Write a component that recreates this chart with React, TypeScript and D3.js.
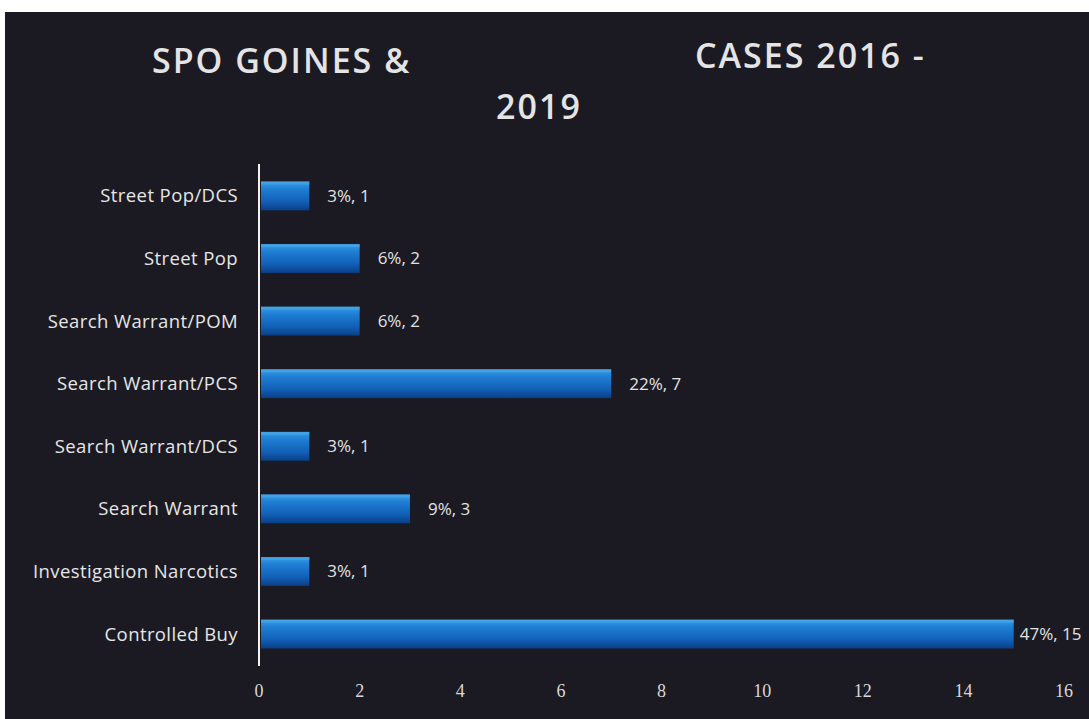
import React from "react";
import * as d3 from "d3";

const categories = [
  "Street Pop/DCS",
  "Street Pop",
  "Search Warrant/POM",
  "Search Warrant/PCS",
  "Search Warrant/DCS",
  "Search Warrant",
  "Investigation Narcotics",
  "Controlled Buy",
];
const counts = [1, 2, 2, 7, 1, 3, 1, 15];
const percents = ["3%", "6%", "6%", "22%", "3%", "9%", "3%", "47%"];
const xTicks = [0, 2, 4, 6, 8, 10, 12, 14, 16];

const W = 1089;
const H = 719;

export default function App() {
  const x = d3.scaleLinear().domain([0, 16]).range([259, 1064]);
  const y = d3.scaleBand<string>().domain(categories).range([164, 666]).paddingInner(0.54).paddingOuter(0.28);
  const font = "'Open Sans', 'DejaVu Sans', sans-serif";
  const bw = y.bandwidth();
  return (
    <svg width={W} height={H} style={{ position: "absolute", left: 0, top: 0 }}>
      <defs>
        <linearGradient id="barGrad" x1="0" y1="0" x2="0" y2="1">
          <stop offset="0" stopColor="#3b9de4" />
          <stop offset="0.25" stopColor="#1f7fd4" />
          <stop offset="0.7" stopColor="#125fb6" />
          <stop offset="1" stopColor="#0a3f86" />
        </linearGradient>
      </defs>
      <rect x={0} y={0} width={W} height={H} fill="#ffffff" />
      <rect x={5} y={12} width={W - 5} height={H - 12} fill="#1b1a22" />
      <g fill="#e4e4e6" fontFamily={font} fontWeight={600} fontSize={34} letterSpacing={2}>
        <text x={152} y={73}>SPO GOINES &amp;</text>
        <text x={695} y={68}>CASES 2016 -</text>
        <text x={539} y={119} textAnchor="middle">2019</text>
      </g>
      {categories.map((c, i) => {
        const y0 = y(c) as number;
        const x1 = x(counts[i]);
        return (
          <g key={c}>
            <rect x={x(0) + 2} y={y0} width={x1 - x(0) - 2} height={bw} fill="url(#barGrad)" />
            <rect x={x(0) + 2} y={y0} width={x1 - x(0) - 2} height={3} fill="#4aa8ea" opacity={0.6} />
            <text
              x={x1 + (counts[i] >= 15 ? 6 : 18)}
              y={y0 + bw / 2}
              dy="0.35em"
              fill="#e2e2e2"
              fontFamily={font}
              fontSize={17}
            >
              {percents[i]}, {counts[i]}
            </text>
            <text
              x={238}
              y={y0 + bw / 2}
              dy="0.35em"
              textAnchor="end"
              fill="#e6e6e6"
              fontFamily={font}
              fontSize={18.5}
              letterSpacing={0.4}
            >
              {c}
            </text>
          </g>
        );
      })}
      <line x1={x(0)} x2={x(0)} y1={164} y2={666} stroke="#f2f2f2" strokeWidth={2} />
      {xTicks.map((t) => (
        <text
          key={t}
          x={x(t)}
          y={697}
          textAnchor="middle"
          fill="#d8d8d8"
          fontFamily="'Liberation Serif', serif"
          fontSize={18}
        >
          {t}
        </text>
      ))}
    </svg>
  );
}
